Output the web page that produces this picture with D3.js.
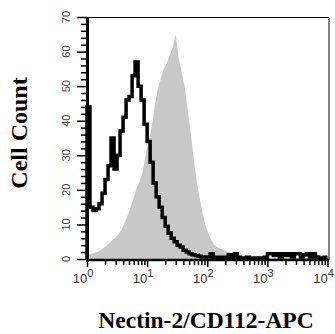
<!DOCTYPE html>
<html>
<head>
<meta charset="utf-8">
<script src="https://cdn.jsdelivr.net/npm/d3@7"></script>
<style>
  html, body { margin: 0; padding: 0; background: #fff; }
  svg { display: block; }
</style>
</head>
<body>
<svg id="chart" width="335" height="334"></svg>
<script>
// histogram channels: 80 bins of 0.05 decade each, from 10^0 to 10^4
const binStep = 0.05;

// filled grey histogram (stained sample)
const grayCounts = [
  1.0, 1.5, 1.8, 2.0, 2.6, 3.2, 3.8, 4.6, 5.5, 6.2,
  7.2, 8.5, 10.5, 12.5, 15, 17.5, 20.5, 22.5, 25, 30,
  34, 38, 44, 49, 52, 55, 56.5, 59, 61, 65,
  58, 54, 49.5, 43, 36.5, 29, 22.5, 17.5, 13, 9.5,
  7, 5.2, 4, 3.3, 3, 2.5, 2, 1.8, 1.5, 1.2,
  1, 0.6, 0.5, 0.4, 0.3, 0.3, 0.2, 0.2, 0.2, 0.2,
  0.2, 0.2, 0.2, 0.2, 0.2, 0.2, 0.2, 0.2, 0.2, 0.2,
  0.2, 0.2, 0.2, 0.2, 0.2, 0.2, 0.2, 0.2, 0.2, 0.2
];

// black outline histogram (isotype control)
const blackCounts = [
  44, 15, 14, 14.5, 16, 19, 23, 27, 35, 26,
  30, 37, 41, 46, 47, 53, 57, 50, 46, 39,
  34, 28, 22, 18, 15, 12, 9.5, 7.5, 6, 5,
  4, 3.5, 2.5, 2, 1.5, 1.2, 1, 0.8, 0.6, 0.6,
  0.6, 1.5, 0.5, 0.5, 0.5, 0.3, 0.5, 1.2, 0.5, 1.5,
  0.5, 0.3, 0.3, 0.5, 0.3, 0.3, 0.3, 0.3, 0.3, 0.5,
  1.5, 1.5, 1, 1.5, 0.6, 1.5, 1, 1.5, 0.6, 1.5,
  1.5, 0.6, 1.2, 1.5, 0.6, 1.5, 0.6, 0.3, 0.3, 0.5
];

const xMajor = [1, 10, 100, 1000, 10000];
const xExponents = ["0", "1", "2", "3", "4"];
const yMajor = [0, 10, 20, 30, 40, 50, 60, 70];
const yTitle = "Cell Count";
const xTitle = "Nectin-2/CD112-APC";

const svg = d3.select("#chart");

const x = d3.scaleLog().domain([1, 1e4]).range([87, 327.5]);
const y = d3.scaleLinear().domain([0, 70]).range([259, 17]);

// bin edges from the channel index
const edge = i => Math.pow(10, i * binStep);
const center = i => Math.pow(10, (i + 0.5) * binStep);

// grey filled histogram
const grayPts = [[1, 0], [1, grayCounts[0]]]
  .concat(grayCounts.map((v, i) => [center(i), v]))
  .concat([[1e4, grayCounts[grayCounts.length - 1]], [1e4, 0]]);

const area = d3.area()
  .x(d => x(d[0]))
  .y0(y(0))
  .y1(d => y(d[1]));

svg.append("path")
  .datum(grayPts)
  .attr("fill", "#c8c8c8")
  .attr("d", area);

// black step outline
const blackPts = [[1, 0]]
  .concat(blackCounts.map((v, i) => [edge(i), v]))
  .concat([[1e4, blackCounts[blackCounts.length - 1]]]);

const line = d3.line()
  .x(d => x(d[0]))
  .y(d => y(d[1]))
  .curve(d3.curveStepAfter);

svg.append("path")
  .datum(blackPts)
  .attr("fill", "none")
  .attr("stroke", "#000")
  .attr("stroke-width", 3.5)
  .attr("d", line);

// frame (top and right, thin)
svg.append("path")
  .attr("d", `M${x(1)},${y(70) + 0.5}H${x(1e4) + 1.5}V${y(0) + 1}`)
  .attr("fill", "none")
  .attr("stroke", "#000")
  .attr("stroke-width", 1);

// y axis: majors every 10, minors every 2
const yMinor = d3.range(0, 71, 2).filter(v => v % 10 !== 0);
svg.append("g")
  .attr("transform", `translate(${x(1)},0)`)
  .call(d3.axisLeft(y).tickValues(yMinor).tickSize(6).tickSizeOuter(0).tickFormat(""))
  .call(g => g.select(".domain").remove())
  .call(g => g.selectAll("line").attr("stroke-width", 1.5));
svg.append("g")
  .attr("transform", `translate(${x(1)},0)`)
  .call(d3.axisLeft(y).tickValues(yMajor).tickSize(10).tickSizeOuter(0).tickFormat(""))
  .call(g => g.select(".domain").remove())
  .call(g => g.selectAll("line").attr("stroke-width", 1.5));
svg.append("line")
  .attr("x1", x(1) + 0.5).attr("x2", x(1) + 0.5)
  .attr("y1", y(70)).attr("y2", y(0) + 3)
  .attr("stroke", "#000").attr("stroke-width", 3);

svg.append("g")
  .selectAll("text")
  .data(yMajor)
  .join("text")
  .attr("transform", d => `translate(70,${y(d)}) rotate(-90)`)
  .attr("text-anchor", "middle")
  .attr("font-family", "Liberation Sans, Arial, sans-serif")
  .attr("font-size", 11)
  .attr("fill", "#444")
  .text(d => d);

// x axis: log minors and decades
const xMinor = [];
for (let dec = 1; dec < 1e4; dec *= 10) {
  for (let k = 2; k <= 9; k++) xMinor.push(dec * k);
}
svg.append("g")
  .attr("transform", `translate(0,${y(0) + 1})`)
  .call(d3.axisBottom(x).tickValues(xMinor).tickSize(5).tickSizeOuter(0).tickFormat(""))
  .call(g => g.select(".domain").remove())
  .call(g => g.selectAll("line").attr("stroke-width", 1.5));
svg.append("g")
  .attr("transform", `translate(0,${y(0) + 1})`)
  .call(d3.axisBottom(x).tickValues(xMajor).tickSize(7).tickSizeOuter(0).tickFormat(""))
  .call(g => g.select(".domain").remove())
  .call(g => g.selectAll("line").attr("stroke-width", 1.5));
svg.append("line")
  .attr("x1", x(1) - 1).attr("x2", x(1e4) + 1.5)
  .attr("y1", y(0) + 1).attr("y2", y(0) + 1)
  .attr("stroke", "#000").attr("stroke-width", 2.5);

const xl = svg.append("g")
  .selectAll("text")
  .data(xMajor)
  .join("text")
  .attr("x", d => x(d) - 4)
  .attr("y", 283)
  .attr("text-anchor", "middle")
  .attr("font-family", "Liberation Sans, Arial, sans-serif")
  .attr("font-size", 13)
  .attr("fill", "#333");
xl.append("tspan").text("10");
xl.append("tspan")
  .attr("dy", -6)
  .attr("font-size", 11)
  .text((d, i) => xExponents[i]);

// axis titles
svg.append("text")
  .attr("transform", `translate(27,133) rotate(-90)`)
  .attr("text-anchor", "middle")
  .attr("font-family", "Liberation Serif, Times New Roman, serif")
  .attr("font-weight", "bold")
  .attr("font-size", 24)
  .text(yTitle);

svg.append("text")
  .attr("x", 206)
  .attr("y", 328)
  .attr("text-anchor", "middle")
  .attr("font-family", "Liberation Serif, Times New Roman, serif")
  .attr("font-weight", "bold")
  .attr("font-size", 23.5)
  .text(xTitle);
</script>
</body>
</html>
